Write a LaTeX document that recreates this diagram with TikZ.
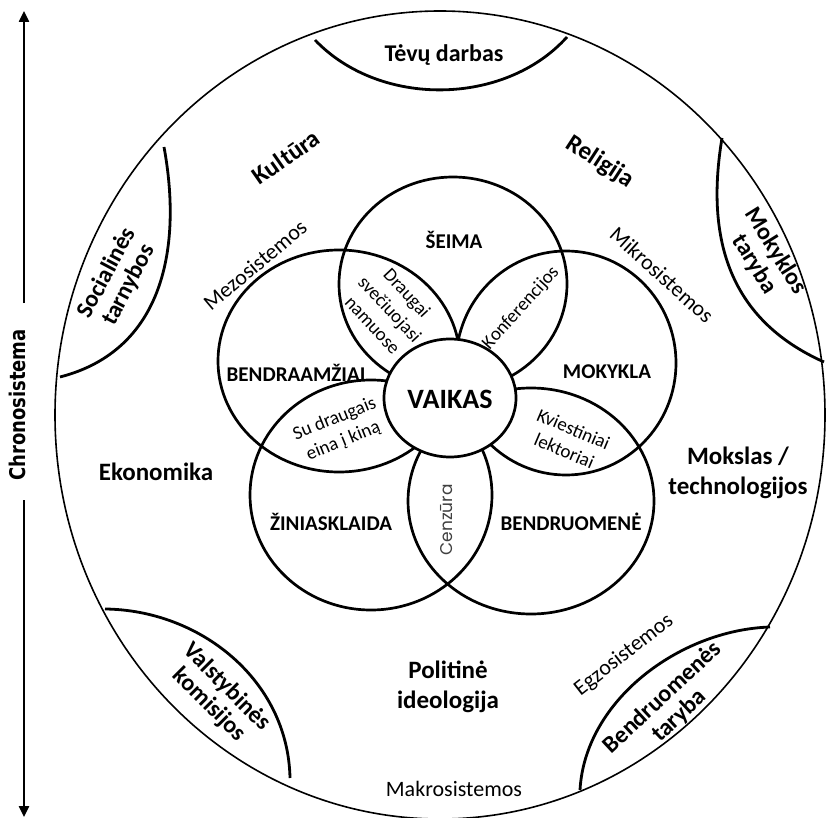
\documentclass[tikz,border=0pt]{standalone}
\usepackage{fontspec}
\setmainfont{Carlito}
\newfontfamily\chronofont{DejaVu Sans}
\newfontfamily\cenzfont{Poppins}
\usetikzlibrary{arrows.meta}
\begin{document}
\begin{tikzpicture}[x=1pt,y=-1pt,
  inner sep=0pt,
  petal/.style={line width=2.7pt},
  ring/.style={line width=1.6pt},
  arcln/.style={line width=2.8pt},
  chrarrow/.style={line width=2.4pt,-{Triangle[length=11pt,width=10pt]}},
  inlbl/.style={font=\bfseries\fontsize{21}{25}\selectfont},
  outlbl/.style={font=\bfseries\fontsize{25}{30}\selectfont, align=center},
  sidelbl/.style={font=\bfseries\fontsize{24}{25}\selectfont, align=center},
  lens/.style={font=\fontsize{19}{23.5}\selectfont, align=center},
  sys/.style={font=\fontsize{22}{26}\selectfont}]
\useasboundingbox (0,0) rectangle (827,818);
\fill[white] (0,0) rectangle (827,818);

% outer ring
\draw[ring] (440,415) ellipse [x radius=385pt, y radius=404pt];

% side arcs
\draw[arcln] (315,40) .. controls (380,108) and (505,106) .. (567,37);
\draw[arcln] (164,147) .. controls (182,245) and (165,350) .. (60,377);
\draw[arcln] (722,138) .. controls (705,240) and (730,320) .. (824,362);
\draw[arcln] (105,609) .. controls (200,610) and (288,680) .. (290,778);
\draw[arcln] (770,627) .. controls (680,630) and (585,700) .. (580,790);

% petals
\draw[petal] (453,284) ellipse [x radius=114pt, y radius=107pt];
\draw[petal] (339,361) ellipse [x radius=121pt, y radius=111pt];
\draw[petal] (566,363) ellipse [x radius=110pt, y radius=112pt];
\draw[petal] (371,495) ellipse [x radius=121pt, y radius=115pt];
\draw[petal] (531,501) ellipse [x radius=123pt, y radius=113pt];
\draw[petal, fill=white] (450,398) ellipse [x radius=66pt, y radius=59pt];

% centre
\node[font=\bfseries\fontsize{28}{30}\selectfont] (vaikas) at (450,399) {VAIKAS};

% petal labels
\node[inlbl] (seima) at (454,240) {ŠEIMA};
\node[inlbl] (bendraam) at (296,373) {BENDRAAMŽIAI};
\node[inlbl] (mokykla) at (607,372) {MOKYKLA};
\node[inlbl] (zinias) at (331,522) {ŽINIASKLAIDA};
\node[inlbl] (bendruom) at (571,522) {BENDRUOMENĖ};

% lens labels
\node[lens, rotate=-47] (draugai) at (390,309) {Draugai\\svečiuojasi\\namuose};
\node[lens, rotate=48] (konf) at (521,308) {Konferencijos};
\node[lens, rotate=22] (kinas) at (339,430) {Su draugais\\eina į kiną};
\node[lens, rotate=-23] (lekt) at (569,440) {Kviestiniai\\lektoriai};
\node[font=\cenzfont\fontsize{17}{18}\selectfont, text=black!75, rotate=90] (cenz) at (447,520) {Cenzūra};

% system labels
\node[sys, rotate=40] (mezo) at (255,265) {Mezosistemos};
\node[sys, rotate=-42] (mikro) at (662,275) {Mikrosistemos};
\node[sys, rotate=38] (egzo) at (624,655) {Egzosistemos};
\node[sys] (makro) at (454,789) {Makrosistemos};

% macro labels
\node[outlbl, rotate=35] (kultura) at (286,157) {Kultūra};
\node[outlbl, rotate=-33] (religija) at (600,162) {Religija};
\node[outlbl] (ekonomika) at (156,472) {Ekonomika};
\node[outlbl] (mokslas) at (738,473) {Mokslas /\\technologijos};
\node[outlbl] (politine) at (448,687) {Politinė\\ideologija};

% exo labels
\node[sidelbl] (tevu) at (444,55) {Tėvų darbas};
\node[sidelbl, rotate=62] (social) at (118,279) {Socialinės\\tarnybos};
\node[sidelbl, rotate=-58] (mokyklos) at (765,258) {Mokyklos\\taryba};
\node[sidelbl, rotate=-45] (valst) at (218,696) {Valstybinės\\komisijos};
\node[sidelbl, rotate=43] (bendrt) at (671,707) {Bendruomenės\\taryba};

% chronosystem
\node[font=\chronofont\bfseries\fontsize{18}{20}\selectfont, rotate=90, yscale=1.2] (chrono) at (17,405) {Chronosistema};
\coordinate (ctop) at (24,11);
\coordinate (cgapt) at (24,303);
\coordinate (cgapb) at (24,500);
\coordinate (cbot) at (24,817);
\draw[chrarrow] (cgapt) -- (ctop);
\draw[chrarrow] (cgapb) -- (cbot);
\end{tikzpicture}
\end{document}
